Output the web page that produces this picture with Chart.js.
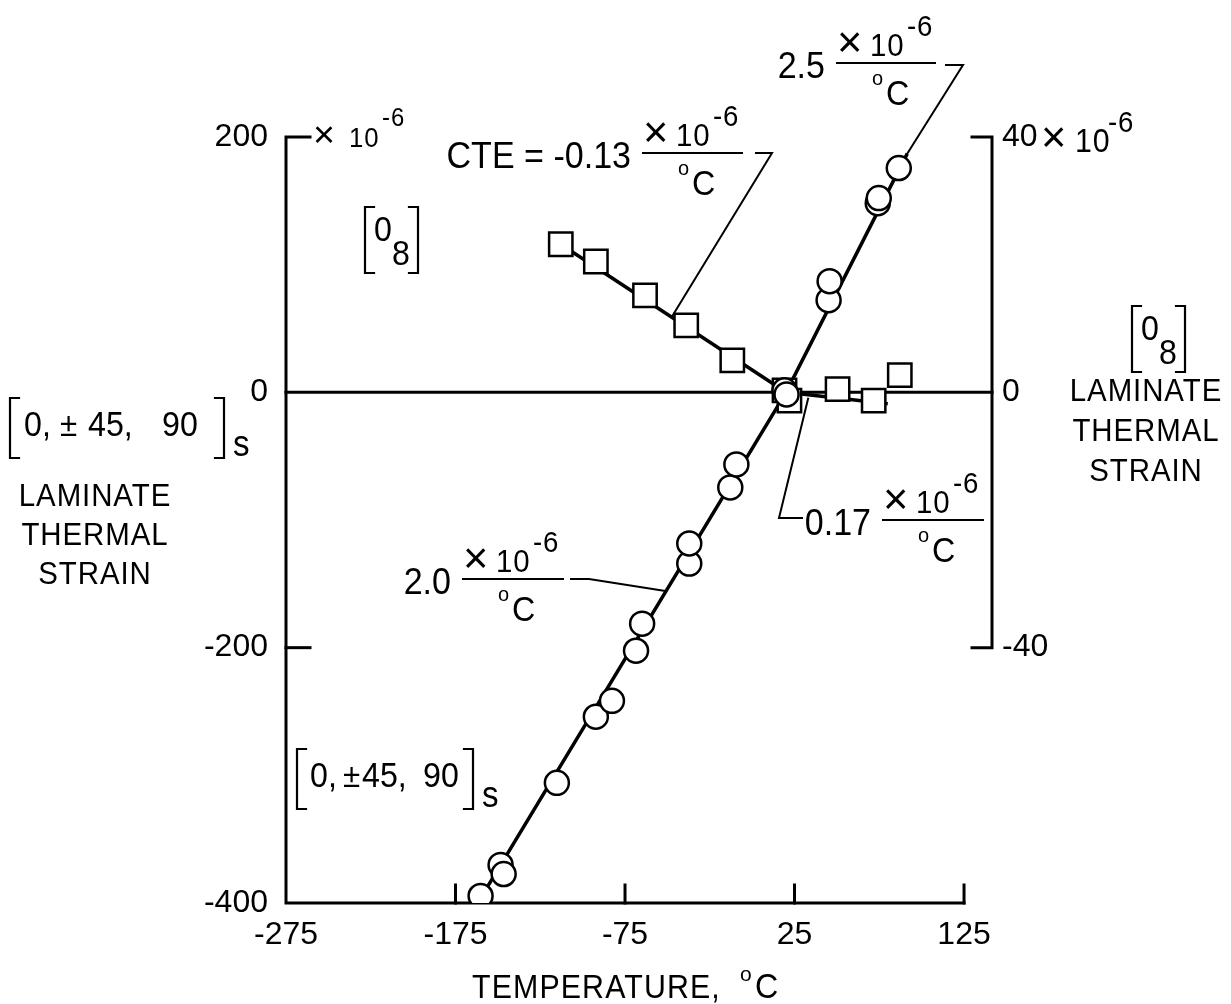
<!DOCTYPE html>
<html><head><meta charset="utf-8">
<script src="https://cdn.jsdelivr.net/npm/chart.js@4"></script>
<style>html,body{margin:0;padding:0;background:#fff;}canvas{display:block;}</style>
</head><body>
<canvas id="c" width="1231" height="1004"></canvas>
<script>
// ---- data (strain in units of 1e-6) ----
const temperatureTicks = [-275, -175, -75, 25, 125];
const leftStrainTicks = [-400, -200, 0, 200];
const rightStrainTicks = [-40, 0, 40];

// [0, ±45, 90]s laminate — left axis
const quasiTemps  = [-160.2, -148.4, -146.6, -115.2, -92.2, -82.7, -68.5, -64.9, -37.1, -37.1, -12.9, -9.3, 19.1, 20.3, 45.1, 45.7, 74.1, 74.7, 86.5];
const quasiStrain = [-394.5, -370.2, -377.3, -305.9, -254.1, -241.6, -202.4, -181.2, -134.1, -118.4, -74.5, -56.5, 1.6, -1.6, 72.2, 87.1, 148.2, 152.2, 175.7];

// [0_8] laminate — right axis
const uniTemps  = [-112.9, -92.2, -63.2, -38.9, -11.7, 19.1, 22.0, 50.4, 71.7, 87.1];
const uniStrain = [23.2, 20.5, 15.2, 10.5, 5.0, 0.3, -1.3, 0.5, -1.3, 2.7];

// fitted lines
const quasiFitTemps  = [-161, 20, 91.5];
const quasiFitStrain = [-398, 0, 187];
const uniFitTemps  = [-113, 20];
const uniFitStrain = [23.2, 0];
const uniFit2Temps  = [20, 80];
const uniFit2Strain = [0, -1.8];

const pts = (xs, ys) => xs.map((v, i) => ({x: v, y: ys[i]}));
const FONT = '"Liberation Sans", Arial, sans-serif';
const SX = 0.92;

function interp(xs, ys, x) {
  for (let i = 0; i < xs.length - 1; i++) {
    if (x >= xs[i] && x <= xs[i + 1]) {
      const t = (x - xs[i]) / (xs[i + 1] - xs[i]);
      return ys[i] + t * (ys[i + 1] - ys[i]);
    }
  }
  return ys[ys.length - 1];
}
function seg(ctx, pts, w) {
  ctx.save(); ctx.lineWidth = w; ctx.strokeStyle = '#000'; ctx.lineCap = 'square';
  ctx.beginPath(); ctx.moveTo(pts[0][0], pts[0][1]);
  for (let i = 1; i < pts.length; i++) ctx.lineTo(pts[i][0], pts[i][1]);
  ctx.stroke(); ctx.restore();
}
function txt(ctx, s, x, y, size, align, spacing, sx) {
  ctx.save(); ctx.fillStyle = '#000'; ctx.font = size + 'px ' + FONT;
  ctx.letterSpacing = (spacing || 0) + 'px';
  ctx.textAlign = align || 'left'; ctx.textBaseline = 'alphabetic';
  ctx.translate(x, y); ctx.scale(sx === undefined ? SX : sx, 1);
  ctx.fillText(s, 0, 0); ctx.restore();
}
function times(ctx, x, y, size) { txt(ctx, '\u00d7', x, y, size * 1.45, 'left', 0, 1); }
function frac(ctx, coef, x0, x1, yl) {
  txt(ctx, coef, x0 - 12, yl + 15, 37, 'right');
  seg(ctx, [[x0, yl], [x1, yl]], 2);
  times(ctx, x0, yl - 6, 30);
  txt(ctx, '10', x0 + 33, yl - 7, 32, 'left', 1);
  txt(ctx, '-6', x0 + 70, yl - 27, 30, 'left', 1);
  txt(ctx, 'o', x0 + 35, yl + 22, 20, 'left', 0, 1);
  txt(ctx, 'C', x0 + 49, yl + 42, 35);
}
function bracket(ctx, xl, xr, yt, yb) {
  seg(ctx, [[xl + 9, yt], [xl, yt], [xl, yb], [xl + 9, yb]], 2.2);
  seg(ctx, [[xr - 9, yt], [xr, yt], [xr, yb], [xr - 9, yb]], 2.2);
}
function label08(ctx, x, yt) {
  bracket(ctx, x, x + 53, yt, yt + 66);
  txt(ctx, '0', x + 9, yt + 34, 35);
  txt(ctx, '8', x + 27, yt + 58, 35);
}
function labelQuasi(ctx, x, yb, offs) {
  bracket(ctx, x, x + offs[4], yb - 38, yb + 22);
  txt(ctx, '0,', x + offs[0], yb, 35);
  txt(ctx, '\u00b1', x + offs[1], yb, 34);
  txt(ctx, '45,', x + offs[2], yb, 35);
  txt(ctx, '90', x + offs[3], yb, 35);
  txt(ctx, 's', x + offs[4] + 9, yb + 20, 36);
}

const decor = {
  id: 'decor',
  beforeDatasetsDraw(chart) {
    const ctx = chart.ctx, {x, y, y2} = chart.scales;
    const X = v => x.getPixelForValue(v), Y = v => y.getPixelForValue(v), Y2 = v => y2.getPixelForValue(v);
    const xr = chart.chartArea.right;
    const x0 = X(temperatureTicks[0]), yTop = Y(leftStrainTicks[3]), yBot = Y(leftStrainTicks[0]);
    seg(ctx, [[x0 + 24, yTop], [x0, yTop], [x0, yBot], [X(temperatureTicks[4]), yBot]], 3);
    temperatureTicks.slice(1).forEach(v => seg(ctx, [[X(v), yBot], [X(v), yBot - 18]], 3));
    seg(ctx, [[x0, Y(-200)], [x0 + 24, Y(-200)]], 3);
    seg(ctx, [[x0, Y(0)], [xr, Y(0)]], 3);
    seg(ctx, [[xr - 20, Y2(40)], [xr, Y2(40)], [xr, Y2(-40)], [xr - 20, Y2(-40)]], 3);
  },
  afterDatasetsDraw(chart) {
    const ctx = chart.ctx, {x, y, y2} = chart.scales;
    const X = v => x.getPixelForValue(v), Y = v => y.getPixelForValue(v), Y2 = v => y2.getPixelForValue(v);
    const xr = chart.chartArea.right;
    // axis multipliers
    const yTop = Y(200);
    times(ctx, X(-275) + 27, yTop + 10, 26);
    txt(ctx, '10', X(-275) + 63, yTop + 10, 28, 'left', 1);
    txt(ctx, '-6', X(-275) + 96, yTop - 11, 26, 'left', 1);
    const y40 = Y2(40);
    times(ctx, xr + 49, y40 + 15, 30);
    txt(ctx, '10', xr + 83, y40 + 15, 33, 'left', 1);
    txt(ctx, '-6', xr + 116, y40 - 5, 30, 'left', 1);

    // CTE annotations
    frac(ctx, 'CTE = -0.13', 643, 742, 153);
    const tC = -47.5;
    seg(ctx, [[756, 153], [772, 153], [X(tC), Y2(interp(uniFitTemps, uniFitStrain, tC))]], 2);

    frac(ctx, '2.5', 837, 935, 63);
    const t25 = quasiFitTemps[2];
    seg(ctx, [[946, 65], [963, 65], [X(t25), Y(interp(quasiFitTemps, quasiFitStrain, t25))]], 2);

    frac(ctx, '0.17', 883, 983, 520);
    const t17 = 33;
    seg(ctx, [[X(t17), Y2(interp(uniFit2Temps, uniFit2Strain, t17)) + 4], [779, 518], [802, 518]], 2);

    frac(ctx, '2.0', 463, 563, 579);
    const t20 = -50.8;
    seg(ctx, [[571, 579], [589, 579], [X(t20), Y(interp(quasiFitTemps, quasiFitStrain, t20))]], 2);

    // laminate labels
    label08(ctx, 365, 207);
    label08(ctx, 1132, 306);
    labelQuasi(ctx, 10, 436, [14, 50, 78, 152, 214]);
    labelQuasi(ctx, 297, 787, [13, 46, 65, 126, 176]);

    ['LAMINATE', 'THERMAL', 'STRAIN'].forEach((s, i) => {
      txt(ctx, s, 95, 506 + i * 39, 32, 'center', 1);
      txt(ctx, s, 1146, 401 + i * 40, 32, 'center', 1);
    });

    txt(ctx, 'TEMPERATURE,', 472, 998, 33, 'left', 1.2);
    txt(ctx, 'o', 740, 981, 21, 'left', 0, 1);
    txt(ctx, 'C', 755, 998, 35);
  }
};

const tickFont = {family: FONT, size: 32};
new Chart(document.getElementById('c'), {
  type: 'scatter',
  data: {
    datasets: [
      {data: pts(quasiTemps, quasiStrain), yAxisID: 'y', pointStyle: 'circle', pointRadius: 12,
       borderWidth: 2.5, backgroundColor: '#fff', borderColor: '#000', order: 0},
      {data: pts(uniTemps, uniStrain), yAxisID: 'y2', pointStyle: 'rect', pointRadius: 16.5,
       borderWidth: 2.5, backgroundColor: '#fff', borderColor: '#000', order: 0},
      {data: pts(quasiFitTemps, quasiFitStrain), yAxisID: 'y', showLine: true, pointRadius: 0,
       borderWidth: 3.5, borderColor: '#000', order: 1},
      {data: pts(uniFitTemps, uniFitStrain), yAxisID: 'y2', showLine: true, pointRadius: 0,
       borderWidth: 3.5, borderColor: '#000', order: 1},
      {data: pts(uniFit2Temps, uniFit2Strain), yAxisID: 'y2', showLine: true, pointRadius: 0,
       borderWidth: 3.5, borderColor: '#000', order: 1}
    ]
  },
  options: {
    responsive: false, animation: false, devicePixelRatio: 1, events: [],
    layout: {padding: {top: 137, left: 0, right: 0, bottom: 0}},
    plugins: {legend: {display: false}, tooltip: {enabled: false}},
    scales: {
      x: {type: 'linear', position: 'bottom', min: -275, max: 141.5,
          afterBuildTicks: s => { s.ticks = temperatureTicks.map(v => ({value: v})); },
          afterFit: s => { s.height = 101; },
          grid: {display: false, drawTicks: false}, border: {display: false},
          ticks: {color: '#000', font: tickFont, padding: 13, maxRotation: 0, autoSkip: false}},
      y: {type: 'linear', position: 'left', min: -400, max: 200,
          afterBuildTicks: s => { s.ticks = leftStrainTicks.map(v => ({value: v})); },
          afterFit: s => { s.width = 286; },
          grid: {display: false, drawTicks: false}, border: {display: false},
          ticks: {color: '#000', font: tickFont, padding: 18}},
      y2: {type: 'linear', position: 'right', min: -80, max: 40,
          afterBuildTicks: s => { s.ticks = rightStrainTicks.map(v => ({value: v})); },
          afterFit: s => { s.width = 239; },
          grid: {display: false, drawTicks: false}, border: {display: false},
          ticks: {color: '#000', font: tickFont, padding: 10}}
    }
  },
  plugins: [decor]
});
</script>
</body></html>
